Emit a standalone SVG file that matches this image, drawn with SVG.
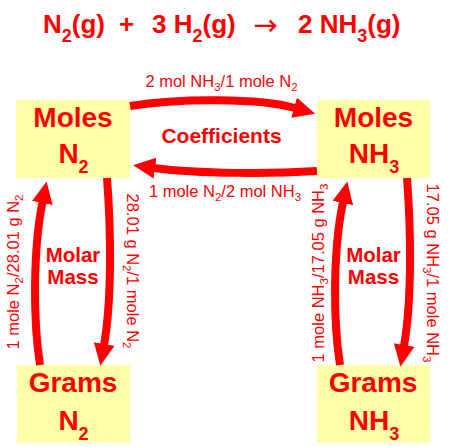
<svg xmlns="http://www.w3.org/2000/svg" width="450" height="447" viewBox="0 0 450 447">
<defs>
<style>
text{font-family:"Liberation Sans",Arial,Helvetica,sans-serif;fill:#ff0000}
.eq{font-size:26px;font-weight:bold}
.eqs{font-size:18px}
.eqa{font-family:"DejaVu Sans",sans-serif;font-size:29px;font-weight:normal}
.box{fill:#ffffaa}
.big{font-size:28px;font-weight:bold;text-anchor:middle}
.bigs{font-size:18px}
.mid{font-size:21px;font-weight:bold;text-anchor:middle}
.mm{font-size:20.5px;font-weight:bold;text-anchor:middle}
.lab{font-size:16.5px;text-anchor:middle}
.labs{font-size:11.5px}
.arr{fill:none;stroke:#ff0000;stroke-width:8;marker-end:url(#ah)}
</style>
<marker id="ah" viewBox="0 0 22 21" markerWidth="22" markerHeight="21" refX="1" refY="10.5" orient="auto" markerUnits="userSpaceOnUse">
<polygon points="0,0 22,10.5 0,21" fill="#ff0000"/>
</marker>
</defs>
<rect width="450" height="447" fill="#ffffff"/>

<g id="equation">
<text class="eq" y="33"><tspan x="43">N</tspan><tspan class="eqs" dy="9">2</tspan><tspan dy="-9">(g)</tspan></text>
<text class="eq" x="126.5" y="33" text-anchor="middle">+</text>
<text class="eq" y="33"><tspan x="152">3 H</tspan><tspan class="eqs" dy="9">2</tspan><tspan dy="-9">(g)</tspan></text>
<text class="eq eqa" x="265.5" y="35" text-anchor="middle">→</text>
<text class="eq" y="33"><tspan x="298">2 NH</tspan><tspan class="eqs" dy="9">3</tspan><tspan dy="-9">(g)</tspan></text>
</g>

<g id="moles-n2">
<rect class="box" x="16" y="100" width="114" height="78"/>
<text class="big" x="73" y="127">Moles</text>
<text class="big" x="73.5" y="163">N<tspan class="bigs" dy="10">2</tspan></text>
</g>

<g id="moles-nh3">
<rect class="box" x="317" y="100" width="113" height="78"/>
<text class="big" x="373.5" y="127">Moles</text>
<text class="big" x="374" y="163">NH<tspan class="bigs" dy="10">3</tspan></text>
</g>

<g id="grams-n2">
<rect class="box" x="17" y="365" width="113" height="78"/>
<text class="big" x="73" y="392">Grams</text>
<text class="big" x="73.5" y="430">N<tspan class="bigs" dy="10">2</tspan></text>
</g>

<g id="grams-nh3">
<rect class="box" x="317" y="365" width="113" height="78"/>
<text class="big" x="373" y="392">Grams</text>
<text class="big" x="374" y="430">NH<tspan class="bigs" dy="10">3</tspan></text>
</g>

<g id="connectors">
<path class="arr" d="M130,106 C180,98 260,98 295,108"/>
<path class="arr" d="M317,171 C270,174 200,174 154,168"/>
<path class="arr" d="M40,365 C33,320 33,250 42.5,202"/>
<path class="arr" d="M107,178 C111,230 112,300 104,345"/>
<path class="arr" d="M340,365 C333,320 333,250 343,202"/>
<path class="arr" d="M407,178 C411,230 412,300 404,346"/>
</g>

<g id="labels">
<text class="lab" x="221.5" y="87">2 mol NH<tspan class="labs" dy="4">3</tspan><tspan dy="-4">/1 mole N</tspan><tspan class="labs" dy="4">2</tspan></text>
<text class="mid" x="221.5" y="143">Coefficients</text>
<text class="lab" x="225" y="197">1 mole N<tspan class="labs" dy="4">2</tspan><tspan dy="-4">/2 mol NH</tspan><tspan class="labs" dy="4">3</tspan></text>
<text class="lab" transform="translate(18.5,272) rotate(-90)">1 mole N<tspan class="labs" dy="4">2</tspan><tspan dy="-4">/28.01 g N</tspan><tspan class="labs" dy="4">2</tspan></text>
<text class="lab" transform="translate(127,271) rotate(90)">28.01 g N<tspan class="labs" dy="4">2</tspan><tspan dy="-4">/1 mole N</tspan><tspan class="labs" dy="4">2</tspan></text>
<text class="lab" transform="translate(323.5,273) rotate(-90)">1 mole NH<tspan class="labs" dy="4">3</tspan><tspan dy="-4">/17.05 g NH</tspan><tspan class="labs" dy="4">3</tspan></text>
<text class="lab" transform="translate(427,273) rotate(90)">17.05 g NH<tspan class="labs" dy="4">3</tspan><tspan dy="-4">/1 mole NH</tspan><tspan class="labs" dy="4">3</tspan></text>
<text class="mm" x="73" y="262">Molar</text>
<text class="mm" x="73" y="284">Mass</text>
<text class="mm" x="373.5" y="262">Molar</text>
<text class="mm" x="373.5" y="284">Mass</text>
</g>
</svg>
